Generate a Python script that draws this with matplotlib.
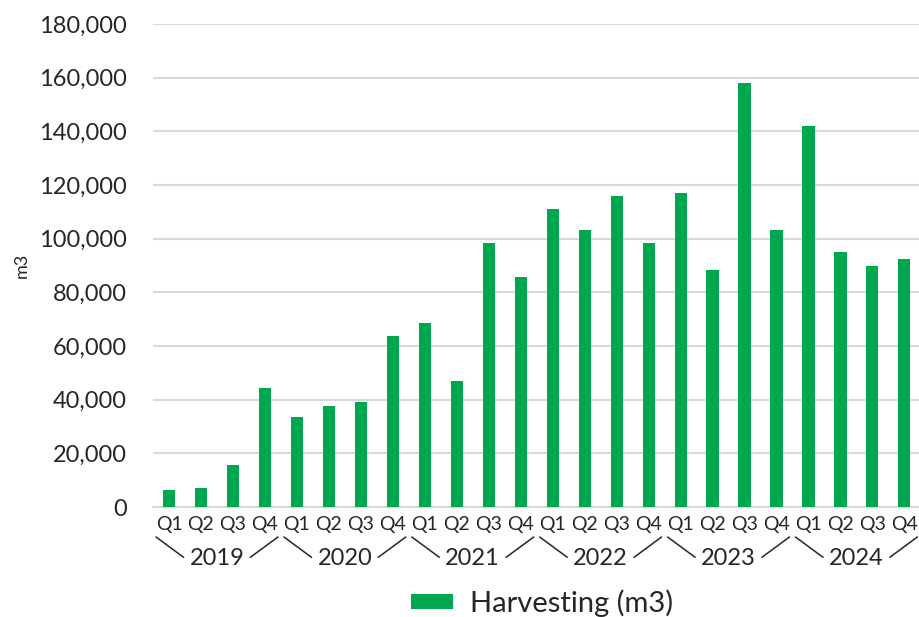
import matplotlib
matplotlib.use("Agg")
import matplotlib.pyplot as plt
from matplotlib.ticker import FuncFormatter
import matplotlib.transforms as mtransforms

plt.rcParams['font.family'] = ['Lato', 'DejaVu Sans']

years = ['2019', '2020', '2021', '2022', '2023', '2024']
quarters = ['Q1', 'Q2', 'Q3', 'Q4']
harvesting = [6300, 7000, 15600, 44300,
              33500, 37600, 39100, 63700,
              68500, 46900, 98300, 85700,
              111000, 103200, 115800, 98300,
              117000, 88300, 157900, 103200,
              141900, 95000, 89800, 92400]

green = '#00A650'
grid_col = '#D9D9D9'
text_col = '#262626'

fig = plt.figure(figsize=(9.19, 6.17), dpi=100)
ax = fig.add_axes([0.1665, 0.178, 0.835, 0.783])

x = list(range(len(harvesting)))
ax.bar(x, harvesting, width=0.38, color=green, label='Harvesting (m3)', zorder=3)

ax.set_xlim(-0.5, len(harvesting) - 0.5)
ax.set_ylim(0, 180000)
ax.set_yticks(range(0, 180001, 20000))
ax.yaxis.set_major_formatter(FuncFormatter(lambda v, p: f'{int(v):,}'))
ax.tick_params(axis='y', length=0, pad=19, labelsize=17, labelcolor=text_col)
ax.grid(axis='y', color=grid_col, linewidth=1.5, zorder=0)
for s in ['top', 'right', 'left']:
    ax.spines[s].set_visible(False)
ax.spines['bottom'].set_color(grid_col)
ax.spines['bottom'].set_linewidth(1.5)

# two-level category axis
ax.set_xticks(x)
ax.set_xticklabels([q for _ in years for q in quarters])
ax.tick_params(axis='x', length=0, pad=6, labelsize=14, labelcolor=text_col)

trans = mtransforms.blended_transform_factory(ax.transData, ax.transAxes)
for i, yr in enumerate(years):
    start = i * 4 - 0.5
    end = start + 4
    mid = start + 2
    ax.text(mid, -0.106, yr, transform=trans, ha='center', va='center',
            fontsize=17, color=text_col)
    ax.plot([start + 0.1, start + 0.95], [-0.062, -0.1035], transform=trans,
            color=text_col, linewidth=1.1, clip_on=False)
    ax.plot([end - 0.95, end - 0.1], [-0.1035, -0.062], transform=trans,
            color=text_col, linewidth=1.1, clip_on=False)

ax.set_ylabel('m3', fontsize=13, color=text_col)
ax.yaxis.set_label_coords(-0.161, 0.5)

fig.legend(loc='center', bbox_to_anchor=(542 / 919, 1 - 603 / 617),
           frameon=False, fontsize=21, handlelength=1.45, handleheight=0.45,
           handletextpad=0.6, labelcolor=text_col)

fig.savefig('out.png', dpi=100)
